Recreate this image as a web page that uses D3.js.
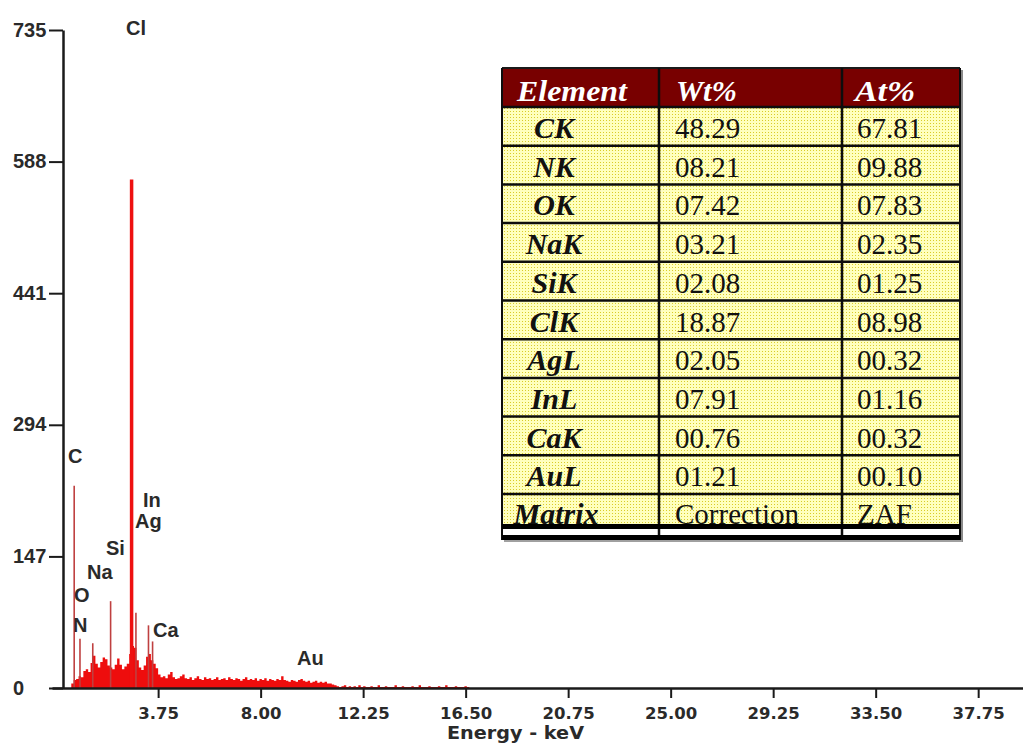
<!DOCTYPE html>
<html>
<head>
<meta charset="utf-8">
<script src="https://cdn.jsdelivr.net/npm/d3@7/dist/d3.min.js"></script>
<style>
  html, body { margin: 0; padding: 0; background: #ffffff; }
  svg { display: block; }
</style>
</head>
<body>
<svg id="chart" width="1023" height="751"></svg>
<script>
// ---------------- DATA ----------------
// Continuum spectrum: counts per 0.1 keV bin, first bin centred at 0.1 keV
const specStart = 0.1;
const specStep = 0.1;
const specCounts = [
  0, 5, 9, 10, 13, 12, 19, 21, 18, 28,
  36, 27, 23, 29, 34, 32, 25, 23, 21, 26,
  33, 26, 21, 24, 27, 38, 47, 45, 31, 23,
  20, 25, 35, 38, 31, 27, 22, 15, 12, 13,
  11, 15, 18, 12, 10, 11, 13, 15, 11, 10,
  12, 9, 11, 13, 10, 9, 12, 10, 11, 9,
  10, 12, 9, 10, 11, 9, 12, 10, 9, 11,
  10, 8, 10, 12, 9, 10, 9, 11, 8, 10,
  9, 11, 8, 10, 9, 8, 10, 9, 13, 9,
  8, 7, 9, 8, 7, 9, 10, 8, 7, 8,
  6, 7, 8, 6, 7, 6, 7, 5, 5, 4,
  3, 2, 1, 2, 3, 1, 2, 1, 2, 1,
  3, 1, 2, 1, 1, 2, 1, 1, 3, 1,
  1, 2, 1, 1, 1, 3, 1, 1, 2, 1,
  1, 1, 2, 1, 1, 3, 1, 1, 1, 2,
  1, 1, 1, 2, 1, 1, 3, 1, 1, 1,
  2, 1, 1, 1, 2, 1, 1
];

// Narrow characteristic peaks (energy keV, counts)
const peakEnergy = [0.27, 0.51, 1.04, 1.78, 2.65, 2.83, 3.35, 3.52];
const peakCounts = [226, 55, 50, 97, 568, 84, 70, 52];
const peakMain   = [false, false, false, false, true, false, false, false];

// Peak labels (anchored in data units: energy keV, counts)
const labelText   = ["Cl", "C", "In", "Ag", "Si", "Na", "O", "N", "Ca", "Au"];
const labelEnergy = [2.42, 0.01, 3.12, 2.79, 1.59, 0.80, 0.26, 0.22, 3.54, 9.51];
const labelCount  = [729, 251, 202, 179, 149, 122, 96, 63, 57, 26];

// Axes
const xTicks = [3.75, 8.00, 12.25, 16.50, 20.75, 25.00, 29.25, 33.50, 37.75];
const yTicks = [0, 147, 294, 441, 588, 735];
const xTitle = "Energy - keV";

// Quantification table
const tableHeader = ["Element", "Wt%", "At%"];
const tableElement = ["CK", "NK", "OK", "NaK", "SiK", "ClK", "AgL", "InL", "CaK", "AuL"];
const tableWt = ["48.29", "08.21", "07.42", "03.21", "02.08", "18.87", "02.05", "07.91", "00.76", "01.21"];
const tableAt = ["67.81", "09.88", "07.83", "02.35", "01.25", "08.98", "00.32", "01.16", "00.32", "00.10"];
const tableFooter = ["Matrix", "Correction", "ZAF"];

// ---------------- CHART ----------------
const svg = d3.select("#chart");

const x = d3.scaleLinear().domain([-0.65, 39.65]).range([52, 1024]);
const y = d3.scaleLinear().domain([0, 735]).range([688, 30]);

const defs = svg.append("defs");
const pat = defs.append("pattern").attr("id", "dots")
  .attr("width", 3).attr("height", 3).attr("patternUnits", "userSpaceOnUse");
pat.append("rect").attr("width", 3).attr("height", 3).attr("fill", "#ffffbe");
pat.append("rect").attr("width", 1).attr("height", 1).attr("fill", "#d9cc2a");

// continuum as stepped area
const specData = specCounts.map((c, i) => ({ e: specStart + i * specStep, c }));
const area = d3.area()
  .curve(d3.curveStepAfter)
  .x(d => x(d.e - specStep / 2))
  .y0(y(0))
  .y1(d => y(d.c));
svg.append("path")
  .datum(specData)
  .attr("d", area)
  .attr("fill", "#ee0d0d");

// characteristic peaks
const peaks = peakEnergy.map((e, i) => ({ e, c: peakCounts[i], main: peakMain[i] }));
svg.append("g").selectAll("line").data(peaks).join("line")
  .attr("x1", d => x(d.e)).attr("x2", d => x(d.e))
  .attr("y1", y(0)).attr("y2", d => y(d.c))
  .attr("stroke", d => d.main ? "#ee1010" : "#bf4040")
  .attr("stroke-width", d => d.main ? 3.5 : 1.6);

// peak labels
svg.append("g").selectAll("text").data(labelText).join("text")
  .attr("x", (d, i) => x(labelEnergy[i]))
  .attr("y", (d, i) => y(labelCount[i]))
  .attr("font-family", "'Liberation Sans', Arial, sans-serif")
  .attr("font-weight", "bold")
  .attr("font-size", 20)
  .attr("fill", "#2a2a2a")
  .text(d => d);

// X axis
const xAxis = svg.append("g")
  .attr("transform", `translate(0,${y(0)})`)
  .call(d3.axisBottom(x).tickValues(xTicks).tickFormat(d3.format(".2f")).tickSize(10).tickSizeOuter(0).tickPadding(6));
xAxis.select(".domain").attr("stroke", "#1a1a1a").attr("stroke-width", 2.5);
xAxis.selectAll(".tick line").attr("stroke", "#1a1a1a").attr("stroke-width", 2);
xAxis.selectAll(".tick text")
  .attr("font-family", "'DejaVu Sans', Verdana, sans-serif")
  .attr("font-weight", "bold")
  .attr("font-size", 16.5)
  .attr("fill", "#2a2a2a")
  .attr("dy", "0.93em");

svg.append("text")
  .attr("x", 447).attr("y", 739)
  .attr("font-family", "'DejaVu Sans', Verdana, sans-serif")
  .attr("font-weight", "bold")
  .attr("font-size", 17)
  .attr("fill", "#2a2a2a")
  .attr("textLength", 137)
  .attr("lengthAdjust", "spacingAndGlyphs")
  .text(xTitle);

// Y axis
const yAxis = svg.append("g")
  .attr("transform", `translate(${x(-0.65) + 11},0)`)
  .call(d3.axisLeft(y).tickValues(yTicks).tickFormat(d3.format("d")).tickSize(14).tickSizeOuter(0).tickPadding(2));
yAxis.select(".domain").attr("stroke", "#1a1a1a").attr("stroke-width", 2.5);
yAxis.selectAll(".tick line").attr("stroke", "#1a1a1a").attr("stroke-width", 2);
yAxis.selectAll(".tick text")
  .attr("text-anchor", "start")
  .attr("x", 13 - (x(-0.65) + 11))
  .attr("dy", "0.3em")
  .attr("font-family", "'Liberation Sans', Arial, sans-serif")
  .attr("font-weight", "bold")
  .attr("font-size", 20)
  .attr("fill", "#2a2a2a");

// ---------------- TABLE ----------------
const colX = [502, 659, 842, 960];
const headTop = 68, headBot = 107, rowH = 38.7;
const rowsBot = headBot + rowH * tableElement.length; // ~494
const thick1 = 524, thick2 = 535, tableBot = 540;

const tg = svg.append("g");
// shadow
tg.append("rect").attr("x", colX[3]).attr("y", headTop + 2).attr("width", 3).attr("height", tableBot - headTop)
  .attr("fill", "#8a8a8a");
tg.append("rect").attr("x", colX[0] + 2).attr("y", tableBot).attr("width", colX[3] - colX[0]).attr("height", 2)
  .attr("fill", "#a0a0a0");
// header
tg.append("rect").attr("x", colX[0]).attr("y", headTop).attr("width", colX[3] - colX[0]).attr("height", headBot - headTop)
  .attr("fill", "#780000");
// body
tg.append("rect").attr("x", colX[0]).attr("y", headBot).attr("width", colX[3] - colX[0]).attr("height", thick1 - headBot)
  .attr("fill", "url(#dots)");
tg.append("rect").attr("x", colX[0]).attr("y", thick1).attr("width", colX[3] - colX[0]).attr("height", tableBot - thick1)
  .attr("fill", "#ffffff");

const serif = "'Liberation Serif', 'Times New Roman', serif";
// header texts
const headX = [517, 676, 855];
const headW = [110, 61, 60];
tg.selectAll("text.head").data(tableHeader).join("text").attr("class", "head")
  .attr("x", (d, i) => headX[i]).attr("y", 101)
  .attr("font-family", serif).attr("font-style", "italic").attr("font-weight", "bold")
  .attr("font-size", 30).attr("fill", "#ffffff")
  .attr("textLength", (d, i) => headW[i])
  .attr("lengthAdjust", "spacingAndGlyphs")
  .text(d => d);

// rows
tableElement.forEach((el, i) => {
  const base = headBot + rowH * i + 31;
  tg.append("text").attr("x", 554).attr("y", base).attr("text-anchor", "middle")
    .attr("font-family", serif).attr("font-style", "italic").attr("font-weight", "bold")
    .attr("font-size", 30).attr("fill", "#111").text(el);
  tg.append("text").attr("x", 675).attr("y", base)
    .attr("font-family", serif).attr("font-size", 29).attr("fill", "#111").text(tableWt[i]);
  tg.append("text").attr("x", 857).attr("y", base)
    .attr("font-family", serif).attr("font-size", 29).attr("fill", "#111").text(tableAt[i]);
});
// footer row
const fBase = rowsBot + 30;
tg.append("text").attr("x", 556).attr("y", fBase).attr("text-anchor", "middle")
  .attr("font-family", serif).attr("font-style", "italic").attr("font-weight", "bold")
  .attr("font-size", 30).attr("fill", "#111").text(tableFooter[0]);
tg.append("text").attr("x", 675).attr("y", fBase)
  .attr("font-family", serif).attr("font-size", 29).attr("fill", "#111").text(tableFooter[1]);
tg.append("text").attr("x", 857).attr("y", fBase)
  .attr("font-family", serif).attr("font-size", 29).attr("fill", "#111").text(tableFooter[2]);

// grid lines
const lineC = "#0d0d0d";
d3.range(tableElement.length + 1).forEach(i => {
  const yy = headBot + rowH * i;
  tg.append("line").attr("x1", colX[0]).attr("x2", colX[3]).attr("y1", yy).attr("y2", yy)
    .attr("stroke", lineC).attr("stroke-width", 2.5);
});
tg.append("line").attr("x1", colX[0]).attr("x2", colX[3]).attr("y1", headTop).attr("y2", headTop)
  .attr("stroke", "#1a1a1a").attr("stroke-width", 2);
colX.forEach((cx, i) => {
  tg.append("line").attr("x1", cx).attr("x2", cx).attr("y1", headTop).attr("y2", tableBot)
    .attr("stroke", lineC).attr("stroke-width", i === 0 || i === 3 ? 2 : 2.5);
});
tg.append("rect").attr("x", colX[0]).attr("y", thick1).attr("width", colX[3] - colX[0]).attr("height", 5).attr("fill", "#000");
tg.append("rect").attr("x", colX[0]).attr("y", thick2).attr("width", colX[3] - colX[0]).attr("height", 5).attr("fill", "#000");
</script>
</body>
</html>
